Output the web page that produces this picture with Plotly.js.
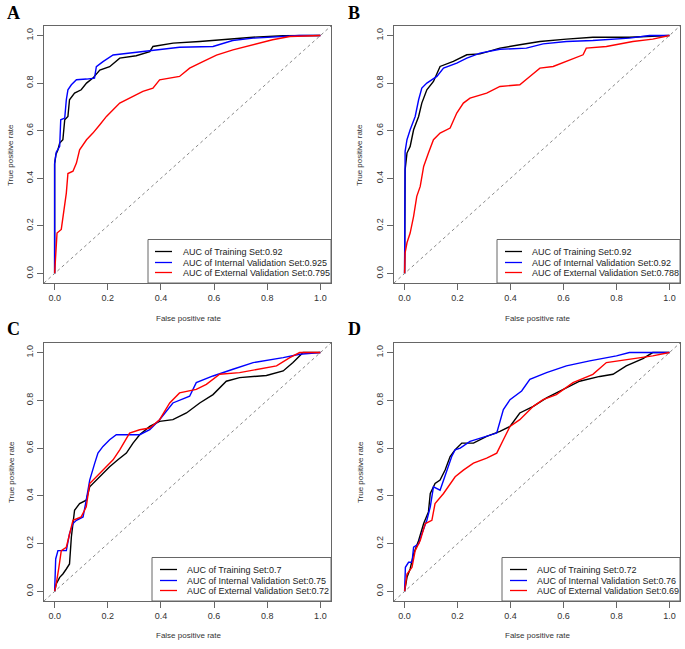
<!DOCTYPE html>
<html>
<head>
<meta charset="utf-8">
<script src="https://cdn.plot.ly/plotly-3.0.1.min.js"></script>
<style>
html,body{margin:0;padding:0;background:#fff;}
#chart{width:685px;height:649px;}
</style>
</head>
<body>
<div id="chart"></div>
<script>
// ---------------- DATA ----------------
const panelLetters = ["A", "B", "C", "D"];
const setNames = ["Training Set", "Internal Validation Set", "External Validation Set"];
const aucA = [0.92, 0.925, 0.795];
const aucB = [0.92, 0.92, 0.788];
const aucC = [0.7, 0.75, 0.72];
const aucD = [0.72, 0.76, 0.69];
const tickVals = [0, 0.2, 0.4, 0.6, 0.8, 1.0];
const tickText = ["0.0", "0.2", "0.4", "0.6", "0.8", "1.0"];
const xTitle = "False positive rate";
const yTitle = "True positive rate";

// Panel A
const A_train_fpr = [0, 0, 0.005, 0.0125, 0.019, 0.031, 0.038, 0.05, 0.056, 0.075, 0.1, 0.12, 0.144, 0.17, 0.207, 0.245, 0.307, 0.358, 0.37, 0.446, 0.546, 0.646, 0.746, 0.86, 1];
const A_train_tpr = [0, 0.46, 0.5, 0.52, 0.548, 0.562, 0.646, 0.66, 0.73, 0.758, 0.772, 0.8, 0.821, 0.855, 0.869, 0.905, 0.915, 0.932, 0.954, 0.968, 0.975, 0.985, 0.993, 0.999, 1];
const A_int_fpr = [0, 0, 0.006, 0.019, 0.023, 0.038, 0.044, 0.05, 0.063, 0.082, 0.12, 0.15, 0.157, 0.182, 0.22, 0.27, 0.32, 0.395, 0.47, 0.596, 0.67, 0.747, 0.86, 0.92, 1];
const A_int_tpr = [0, 0.464, 0.51, 0.534, 0.646, 0.653, 0.73, 0.772, 0.793, 0.814, 0.817, 0.821, 0.869, 0.89, 0.918, 0.925, 0.932, 0.942, 0.951, 0.954, 0.979, 0.989, 0.996, 1, 1];
const A_ext_fpr = [0, 0.004, 0.009, 0.025, 0.031, 0.044, 0.05, 0.069, 0.082, 0.094, 0.12, 0.144, 0.17, 0.195, 0.22, 0.245, 0.295, 0.332, 0.37, 0.395, 0.47, 0.508, 0.558, 0.609, 0.671, 0.747, 0.82, 0.885, 1];
const A_ext_tpr = [0, 0.07, 0.17, 0.185, 0.24, 0.338, 0.42, 0.43, 0.464, 0.52, 0.562, 0.59, 0.625, 0.66, 0.688, 0.716, 0.744, 0.765, 0.779, 0.814, 0.828, 0.863, 0.89, 0.918, 0.94, 0.961, 0.982, 0.996, 1];

// Panel B
const B_train_fpr = [0, 0.002, 0.009, 0.021, 0.034, 0.053, 0.065, 0.084, 0.109, 0.134, 0.184, 0.235, 0.285, 0.36, 0.435, 0.511, 0.611, 0.711, 0.849, 1];
const B_train_tpr = [0, 0.436, 0.506, 0.534, 0.604, 0.66, 0.716, 0.772, 0.807, 0.87, 0.891, 0.919, 0.923, 0.947, 0.961, 0.975, 0.985, 0.993, 0.993, 1];
const B_int_fpr = [0, 0, 0.002, 0.009, 0.021, 0.04, 0.053, 0.065, 0.084, 0.122, 0.147, 0.197, 0.235, 0.285, 0.36, 0.46, 0.523, 0.611, 0.711, 0.849, 0.925, 1];
const B_int_tpr = [0, 0.09, 0.513, 0.562, 0.604, 0.66, 0.73, 0.779, 0.8, 0.828, 0.863, 0.884, 0.905, 0.926, 0.942, 0.947, 0.965, 0.975, 0.979, 0.989, 1, 1];
const B_ext_fpr = [0, 0.002, 0.009, 0.021, 0.034, 0.046, 0.059, 0.072, 0.09, 0.109, 0.134, 0.172, 0.197, 0.222, 0.247, 0.31, 0.36, 0.435, 0.473, 0.511, 0.561, 0.611, 0.674, 0.686, 0.762, 0.862, 0.937, 1];
const B_ext_tpr = [0, 0.087, 0.129, 0.17, 0.24, 0.324, 0.366, 0.45, 0.506, 0.562, 0.59, 0.611, 0.674, 0.716, 0.737, 0.758, 0.786, 0.793, 0.828, 0.863, 0.87, 0.891, 0.919, 0.947, 0.954, 0.975, 0.985, 1];

// Panel C
const C_train_fpr = [0, 0.006, 0.019, 0.031, 0.044, 0.056, 0.063, 0.075, 0.094, 0.119, 0.132, 0.157, 0.182, 0.207, 0.238, 0.27, 0.295, 0.32, 0.358, 0.395, 0.445, 0.496, 0.546, 0.596, 0.646, 0.696, 0.797, 0.86, 0.897, 0.935, 1];
const C_train_tpr = [0, 0.031, 0.059, 0.073, 0.094, 0.115, 0.228, 0.34, 0.368, 0.382, 0.438, 0.466, 0.494, 0.522, 0.551, 0.579, 0.621, 0.656, 0.691, 0.712, 0.719, 0.747, 0.789, 0.824, 0.88, 0.895, 0.904, 0.923, 0.958, 1, 1];
const C_int_fpr = [0, 0.004, 0.0125, 0.044, 0.056, 0.069, 0.082, 0.107, 0.119, 0.132, 0.151, 0.163, 0.182, 0.207, 0.232, 0.32, 0.358, 0.395, 0.445, 0.508, 0.533, 0.596, 0.671, 0.747, 0.86, 0.922, 1];
const C_int_tpr = [0, 0.136, 0.171, 0.171, 0.242, 0.284, 0.298, 0.312, 0.382, 0.466, 0.537, 0.579, 0.607, 0.635, 0.656, 0.656, 0.677, 0.719, 0.789, 0.817, 0.874, 0.902, 0.93, 0.958, 0.979, 0.993, 1];
const C_ext_fpr = [0, 0.006, 0.016, 0.025, 0.044, 0.056, 0.069, 0.1, 0.119, 0.132, 0.157, 0.195, 0.22, 0.245, 0.282, 0.32, 0.358, 0.395, 0.433, 0.47, 0.533, 0.571, 0.621, 0.696, 0.772, 0.835, 0.885, 0.922, 1];
const C_ext_tpr = [0, 0.031, 0.101, 0.171, 0.185, 0.242, 0.298, 0.312, 0.354, 0.452, 0.48, 0.522, 0.551, 0.593, 0.663, 0.677, 0.684, 0.719, 0.789, 0.831, 0.846, 0.867, 0.909, 0.916, 0.93, 0.944, 0.979, 1, 1];

// Panel D
const D_train_fpr = [0, 0.009, 0.021, 0.034, 0.053, 0.072, 0.09, 0.097, 0.115, 0.134, 0.153, 0.172, 0.191, 0.216, 0.26, 0.31, 0.36, 0.398, 0.435, 0.486, 0.536, 0.598, 0.661, 0.737, 0.787, 0.837, 0.9, 0.937, 1];
const D_train_tpr = [0, 0.059, 0.094, 0.157, 0.213, 0.284, 0.333, 0.41, 0.452, 0.466, 0.508, 0.565, 0.593, 0.621, 0.621, 0.649, 0.67, 0.691, 0.747, 0.775, 0.81, 0.846, 0.88, 0.9, 0.909, 0.944, 0.975, 1, 1];
const D_int_fpr = [0, 0.003, 0.015, 0.028, 0.034, 0.053, 0.065, 0.084, 0.097, 0.109, 0.134, 0.159, 0.178, 0.191, 0.21, 0.247, 0.31, 0.348, 0.373, 0.398, 0.442, 0.473, 0.536, 0.611, 0.699, 0.8, 0.849, 1];
const D_int_tpr = [0, 0.101, 0.122, 0.122, 0.185, 0.199, 0.242, 0.298, 0.354, 0.438, 0.424, 0.508, 0.565, 0.593, 0.6, 0.628, 0.649, 0.663, 0.761, 0.803, 0.839, 0.888, 0.916, 0.944, 0.965, 0.986, 1, 1];
const D_ext_fpr = [0, 0.009, 0.028, 0.04, 0.059, 0.078, 0.103, 0.115, 0.147, 0.172, 0.191, 0.222, 0.26, 0.31, 0.348, 0.373, 0.398, 0.435, 0.486, 0.523, 0.573, 0.636, 0.711, 0.762, 0.849, 0.937, 1];
const D_ext_tpr = [0, 0.073, 0.101, 0.171, 0.213, 0.284, 0.298, 0.368, 0.41, 0.452, 0.48, 0.508, 0.537, 0.558, 0.579, 0.635, 0.691, 0.719, 0.775, 0.803, 0.824, 0.874, 0.909, 0.958, 0.972, 0.986, 1];

// ---------------- BUILD ----------------
const W = 685, H = 649;
const PX = x => x / W;
const PY = y => 1 - y / H;
const colors = ["#000000", "#0000ff", "#ff0000"];
const FONT = "Liberation Sans, Arial, sans-serif";

const curveData = [
  [[A_train_fpr, A_train_tpr], [A_int_fpr, A_int_tpr], [A_ext_fpr, A_ext_tpr]],
  [[B_train_fpr, B_train_tpr], [B_int_fpr, B_int_tpr], [B_ext_fpr, B_ext_tpr]],
  [[C_train_fpr, C_train_tpr], [C_int_fpr, C_int_tpr], [C_ext_fpr, C_ext_tpr]],
  [[D_train_fpr, D_train_tpr], [D_int_fpr, D_int_tpr], [D_ext_fpr, D_ext_tpr]]
];
const aucs = [aucA, aucB, aucC, aucD];

// layout geometry in pixels
const panels = [
  {box: [44, 331, 26, 283],  letter: [13, 13],  xt: [188, 318], yt: [11, 155],  leg: {left: 148, l0: 155, l1: 172, tx: 181}},
  {box: [394, 680, 26, 283], letter: [354, 13], xt: [537, 318], yt: [360, 155], leg: {left: 497, l0: 505, l1: 522, tx: 530}},
  {box: [44, 331, 343, 601], letter: [13, 329], xt: [188, 635], yt: [11, 472],  leg: {left: 152, l0: 160, l1: 177, tx: 185}},
  {box: [394, 680, 343, 601], letter: [354, 329], xt: [537, 635], yt: [360, 472], leg: {left: 502, l0: 510, l1: 527, tx: 535}}
];
const legRows = [11.5, 22, 32.5];
const legTopOffset = 43.5;

const traces = [];
const layout = {
  width: W, height: H,
  margin: {l: 0, r: 0, t: 0, b: 0},
  paper_bgcolor: "#fff", plot_bgcolor: "#fff",
  showlegend: false,
  font: {family: FONT, size: 9, color: "#333"},
  shapes: [], annotations: []
};

panels.forEach((p, i) => {
  const n = i + 1;
  const xa = n === 1 ? "x" : "x" + n;
  const ya = n === 1 ? "y" : "y" + n;
  const axCommon = {
    range: [-0.04, 1.04], tickvals: tickVals, ticktext: tickText,
    showgrid: false, zeroline: false, showline: true, mirror: true,
    linecolor: "#666", linewidth: 1, ticks: "outside", ticklen: 6,
    tickcolor: "#666", tickwidth: 1,
    tickfont: {family: FONT, size: 9, color: "#333"}, fixedrange: true
  };
  layout[n === 1 ? "xaxis" : "xaxis" + n] = Object.assign({}, axCommon, {
    domain: [PX(p.box[0]), PX(p.box[1])], anchor: ya
  });
  layout[n === 1 ? "yaxis" : "yaxis" + n] = Object.assign({}, axCommon, {
    domain: [PY(p.box[3]), PY(p.box[2])], anchor: xa, tickangle: -90
  });

  // diagonal reference line
  layout.shapes.push({
    type: "line", xref: xa + " domain", yref: ya + " domain",
    x0: 0, y0: 0, x1: 1, y1: 1,
    line: {color: "#888", width: 1, dash: "3px,3px"}
  });

  curveData[i].forEach((c, k) => {
    traces.push({
      type: "scatter", mode: "lines", x: c[0], y: c[1],
      xaxis: xa, yaxis: ya,
      name: "AUC of " + setNames[k] + ":" + aucs[i][k],
      line: {color: colors[k], width: 1.4},
      hoverinfo: "skip"
    });
  });

  // panel letter
  layout.annotations.push({
    text: "<b>" + panelLetters[i] + "</b>", xref: "paper", yref: "paper",
    x: PX(p.letter[0]), y: PY(p.letter[1]), xanchor: "center", yanchor: "middle",
    showarrow: false, font: {family: "Liberation Serif, Times New Roman, serif", size: 18, color: "#000"}
  });
  // axis titles
  layout.annotations.push({
    text: xTitle, xref: "paper", yref: "paper",
    x: PX(p.xt[0]), y: PY(p.xt[1]), xanchor: "center", yanchor: "middle",
    showarrow: false, font: {family: FONT, size: 8, color: "#333"}
  });
  layout.annotations.push({
    text: yTitle, xref: "paper", yref: "paper", textangle: -90,
    x: PX(p.yt[0]), y: PY(p.yt[1]), xanchor: "center", yanchor: "middle",
    showarrow: false, font: {family: FONT, size: 8, color: "#333"}
  });

  // legend box
  const bottom = p.box[3], right = p.box[1];
  const top = bottom - legTopOffset;
  layout.shapes.push({
    type: "rect", xref: "paper", yref: "paper",
    x0: PX(p.leg.left), x1: PX(right), y0: PY(bottom), y1: PY(top),
    line: {color: "#666", width: 1}, fillcolor: "rgba(255,255,255,0)"
  });
  setNames.forEach((s, k) => {
    const ry = Math.round(top + legRows[k]) + 0.5;
    layout.shapes.push({
      type: "line", xref: "paper", yref: "paper",
      x0: PX(p.leg.l0), x1: PX(p.leg.l1), y0: PY(ry), y1: PY(ry),
      line: {color: colors[k], width: 1.3}
    });
    layout.annotations.push({
      text: "AUC of " + s + ":" + aucs[i][k], xref: "paper", yref: "paper",
      x: PX(p.leg.tx), y: PY(ry), xanchor: "left", yanchor: "middle",
      showarrow: false, font: {family: FONT, size: 9, color: "#222"}
    });
  });
});

Plotly.newPlot("chart", traces, layout, {staticPlot: true, displayModeBar: false});
</script>
</body>
</html>
